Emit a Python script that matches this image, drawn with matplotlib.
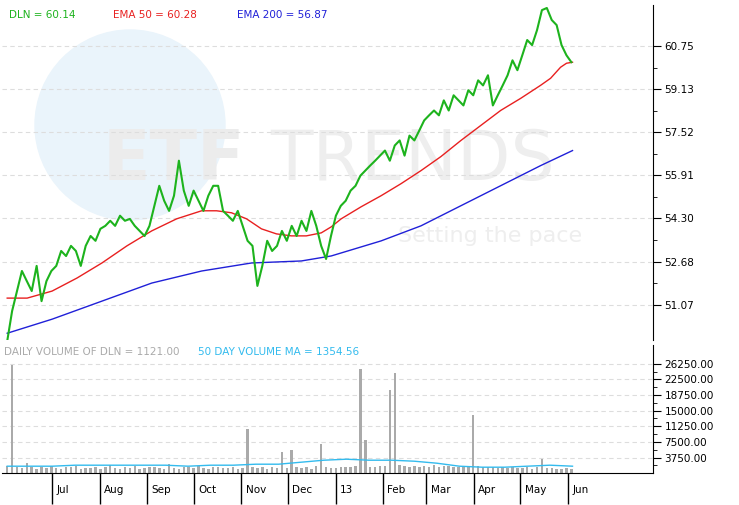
import numpy as np, pandas as pd
import matplotlib
matplotlib.use("Agg")
import matplotlib.pyplot as plt
import matplotlib.dates as mdates
from matplotlib.patches import Ellipse

price_y_px = [340,310,290,270,280,290,265,300,280,270,265,250,255,245,250,265,245,235,240,228,225,220,225,215,220,218,225,230,235,225,
 205,185,200,210,195,160,190,205,190,200,210,195,185,185,210,215,220,210,225,240,245,285,265,240,250,245,230,240,225,235,
 220,230,210,225,245,258,235,215,205,200,190,185,175,170,165,160,155,150,160,145,140,155,135,140,130,120,115,110,115,100,
 110,95,100,105,90,95,80,85,75,105,95,85,75,60,70,55,40,45,30,10,8,20,25,45,55,62]
dln = [round(60.75-(y-46)/26.6,2) for y in price_y_px]
e50x = [5,25,50,75,100,125,150,175,200,215,230,245,260,275,290,305,320,330,340,360,380,400,420,440,460,480,500,520,540,550,560,566,572]
e50y = [297,297,290,277,262,245,230,218,210,210,212,218,228,233,235,235,232,226,218,206,195,183,170,156,140,125,110,98,85,78,67,63,62]
e200x = [5,50,100,150,200,250,300,330,380,420,460,500,540,572]
e200y = [332,318,300,282,270,262,260,255,240,225,205,185,165,150]
volume = [1800,26000,1500,1200,2500,1400,1100,1600,1300,1800,1200,1000,1500,1400,1700,1100,1300,1200,1600,1000,
 1400,1900,1200,1100,1500,1300,1700,1000,1200,1400,1600,1300,1100,2100,1200,1000,1500,1400,1300,1700,
 1200,1100,1500,1600,1300,1200,1400,1000,1300,10500,1600,1200,1400,1100,1500,1200,5000,1300,5500,1400,
 1200,1500,1100,1700,7000,1400,1300,1200,1600,1500,1400,1800,25000,8000,1600,1500,1800,1700,20000,24000,
 1900,1700,1600,1800,1500,1700,1600,1900,1500,1800,1700,1600,1500,1800,1600,14000,1700,1500,1600,1400,
 1300,1500,1200,1400,1300,1200,1500,1100,1400,3500,1300,1200,1100,1000,1200,1121]
volma_px = [466,466,466,465,465,465,465,465,466,465,465,464,464,462,460,459,460,460,461,463,466,467,467,466,465,466]

start = pd.Timestamp("2012-06-02"); end = pd.Timestamp("2013-06-03")
dates = pd.to_datetime(np.linspace(start.value, end.value, len(dln)))
vdates = pd.to_datetime(np.linspace(start.value, end.value, len(volume)))
def px2date(x):
    return start + pd.Timedelta(days=(x-5)/1.546)

fig = plt.figure(figsize=(7.39,5.05), dpi=100)
ax = fig.add_axes([0.003,0.327,0.881,0.663])
av = fig.add_axes([0.003,0.063,0.881,0.253], sharex=ax)
xl = (px2date(0), px2date(653))

fig.patches.append(Ellipse((130/739,1-125/505), 190/739, 190/505, transform=fig.transFigure, color="#eaf4fb", zorder=-2))
fig.text(103/739,1-180/505,"ETF",fontsize=50,fontweight="bold",color="#ececec",zorder=-1)
fig.text(270/739,1-180/505,"TRENDS",fontsize=50,color="#eeeeee",zorder=-1)
fig.text(398/739,1-242/505,"Setting the pace",fontsize=16,color="#eeeeee",zorder=-1)
for a in (ax,av):
    a.set_facecolor("none")

ax.plot(dates, dln, color="#1db31d", lw=1.5, zorder=3)
ax.plot([px2date(x) for x in e50x], [60.75-(y-46)/26.6 for y in e50y], color="#e82020", lw=1, zorder=2)
ax.plot([px2date(x) for x in e200x], [60.75-(y-46)/26.6 for y in e200y], color="#2020d8", lw=1, zorder=2)
ax.set_ylim(49.75, 62.29)
pt = [51.07,52.68,54.30,55.91,57.52,59.13,60.75]
ax.set_yticks(pt); ax.set_yticklabels([f"{v:.2f}" for v in pt])
ax.set_yticks([(pt[i]+pt[i+1])/2 for i in range(6)], minor=True)
ax.yaxis.tick_right()
ax.yaxis.grid(True, ls=(0,(4,3)), color="#dddddd", lw=0.8)
ax.tick_params(axis="x", bottom=False, labelbottom=False)
ax.text(0.01,0.985,"DLN = 60.14",color="#1db31d",transform=ax.transAxes,fontsize=7.5,va="top")
ax.text(0.17,0.985,"EMA 50 = 60.28",color="#e82020",transform=ax.transAxes,fontsize=7.5,va="top")
ax.text(0.36,0.985,"EMA 200 = 56.87",color="#2020d8",transform=ax.transAxes,fontsize=7.5,va="top")

av.bar(vdates, volume, width=1.6, color="#aaaaaa", zorder=2)
vmx = np.linspace(5,572,len(volma_px))
av.plot([px2date(x) for x in vmx], [(473-y)*239.4 for y in volma_px], color="#33bbee", lw=1, zorder=3)
av.set_ylim(0,30640)
vt = [3750*i for i in range(1,8)]
av.set_yticks(vt); av.set_yticklabels([f"{v:.2f}" for v in vt])
av.set_yticks([v+1875 for v in [0]+vt[:-1]], minor=True)
av.yaxis.tick_right()
av.yaxis.grid(True, ls=(0,(4,3)), color="#dddddd", lw=0.8)
av.text(0.003,0.99,"DAILY VOLUME OF DLN = 1121.00",color="#aaaaaa",transform=av.transAxes,fontsize=7.5,va="top")
av.text(0.3,0.99,"50 DAY VOLUME MA = 1354.56",color="#33bbee",transform=av.transAxes,fontsize=7.5,va="top")

months = pd.date_range("2012-07-01","2013-06-01",freq="MS")
labels = ["Jul","Aug","Sep","Oct","Nov","Dec","13","Feb","Mar","Apr","May","Jun"]
av.set_xticks(months); av.set_xticklabels([])
av.tick_params(axis="x", length=22, width=1, direction="out")
for m,l in zip(months,labels):
    av.annotate(l,(mdates.date2num(m),0),xycoords=("data","axes fraction"),xytext=(3,-14),textcoords="offset points",fontsize=7.5)
av.set_xlim(*xl)
for a in (ax,av):
    a.tick_params(axis="y", labelsize=7.5, length=6, direction="out", pad=2)
    a.tick_params(axis="y", which="minor", length=3)
    for s in ("top","left"): a.spines[s].set_visible(False)
ax.spines["bottom"].set_visible(False)
fig.savefig("out.png", dpi=100)
